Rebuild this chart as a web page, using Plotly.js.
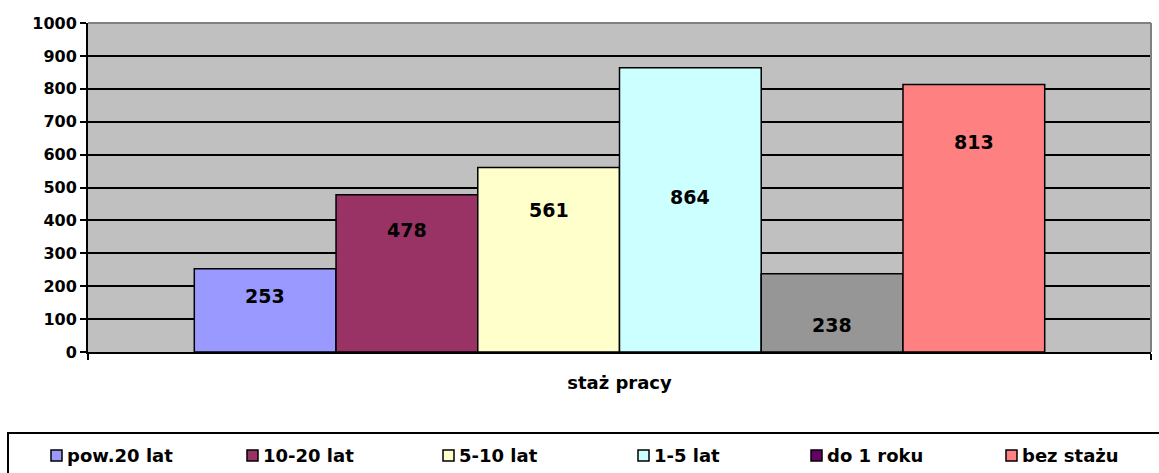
<!DOCTYPE html>
<html><head><meta charset="utf-8">
<script src="https://cdn.plot.ly/plotly-3.0.1.min.js"></script>
<style>html,body{margin:0;padding:0;background:#fff;overflow:hidden}</style>
</head><body>
<div id="chart" style="width:1159px;height:473px"></div>
<script>
// ---- data ----
const category = ['staż pracy'];
const seriesNames = ['pow.20 lat', '10-20 lat', '5-10 lat', '1-5 lat', 'do 1 roku', 'bez stażu'];
const seriesValues = [253, 478, 561, 864, 238, 813];
const yTickValues = [0, 100, 200, 300, 400, 500, 600, 700, 800, 900, 1000];

// ---- styles ----
const barColors = ['#9999FF', '#993366', '#FFFFCC', '#CCFFFF', '#969696', '#FF8080'];
const legendColors = ['#9999FF', '#993366', '#FFFFCC', '#CCFFFF', '#660066', '#FF8080'];
const labelAnchorY = [170, 371, 432, 471, 82, 638];   // where each value label sits (axis units)
const legendMarkerLeftPx = [51, 247, 443, 638, 811, 1006];

const W = 1159, H = 473;
const M = {l: 88, r: 8, t: 23, b: 121};
const plotW = W - M.l - M.r, plotH = H - M.t - M.b;
const pxX = px => (px - M.l) / plotW;
const pxY = py => (H - M.b - py) / plotH;

const FONT = 'DejaVu Sans';
const BAR_GAP = 0.2;

const traces = seriesNames.map((name, i) => ({
  type: 'bar',
  name: name,
  x: category,
  y: [seriesValues[i]],
  marker: {color: barColors[i], line: {color: '#000000', width: 1.5}},
  showlegend: false,
  hoverinfo: 'name+y'
}));

const n = seriesNames.length;
const slot = (1 - BAR_GAP) / n;
const annotations = seriesNames.map((name, i) => ({
  xref: 'x', yref: 'y',
  x: (i - (n - 1) / 2) * slot,
  y: labelAnchorY[i],
  text: '<b>' + seriesValues[i] + '</b>',
  showarrow: false,
  font: {family: FONT, size: 19, color: '#000'}
}));

const shapes = [
  // grey top and right border of the plot area
  {type: 'line', xref: 'paper', yref: 'paper', x0: 0, x1: 1, y0: 1, y1: 1, line: {color: '#808080', width: 2}, layer: 'above'},
  {type: 'line', xref: 'paper', yref: 'paper', x0: 1, x1: 1, y0: 0, y1: 1, line: {color: '#808080', width: 2}, layer: 'above'},
  // legend box
  {type: 'rect', xref: 'paper', yref: 'paper', x0: pxX(8), x1: pxX(1175), y0: pxY(433), y1: pxY(500), line: {color: '#000', width: 2}, fillcolor: 'rgba(0,0,0,0)'}
];

// legend entries (markers + text)
seriesNames.forEach((name, i) => {
  const left = legendMarkerLeftPx[i];
  shapes.push({type: 'rect', xref: 'paper', yref: 'paper',
    x0: pxX(left), x1: pxX(left + 11), y0: pxY(461), y1: pxY(450),
    fillcolor: legendColors[i], line: {color: '#000', width: 1.5}});
  annotations.push({xref: 'paper', yref: 'paper', x: pxX(left + 14), y: pxY(455),
    xanchor: 'left', yanchor: 'middle', text: '<b>' + name + '</b>', showarrow: false,
    font: {family: FONT, size: 18, color: '#000'}});
});

const layout = {
  width: W, height: H,
  margin: M,
  paper_bgcolor: '#ffffff',
  plot_bgcolor: '#C0C0C0',
  barmode: 'group',
  bargap: BAR_GAP,
  bargroupgap: 0,
  font: {family: FONT, color: '#000', size: 16},
  showlegend: false,
  xaxis: {
    type: 'category',
    range: [-0.5, 0.5],
    showticklabels: false,
    ticks: 'outside', tickson: 'boundaries', ticklen: 6, tickwidth: 2, tickcolor: '#000',
    showline: true, linecolor: '#000', linewidth: 2,
    showgrid: false, zeroline: false,
    title: {text: '<b>' + category[0] + '</b>', font: {family: FONT, size: 18, color: '#000'}, standoff: 23}
  },
  yaxis: {
    range: [0, 1000],
    tickmode: 'array', tickvals: yTickValues, ticktext: yTickValues.map(v => '<b>' + v + '</b>'),
    ticks: 'outside', ticklen: 6, tickwidth: 2, tickcolor: '#000',
    tickfont: {family: FONT, size: 16, color: '#000'},
    showline: true, linecolor: '#000', linewidth: 2,
    showgrid: true, gridcolor: '#000', gridwidth: 2,
    zeroline: false
  },
  annotations: annotations,
  shapes: shapes
};

Plotly.newPlot('chart', traces, layout, {displayModeBar: false, staticPlot: true});
</script>
</body></html>
